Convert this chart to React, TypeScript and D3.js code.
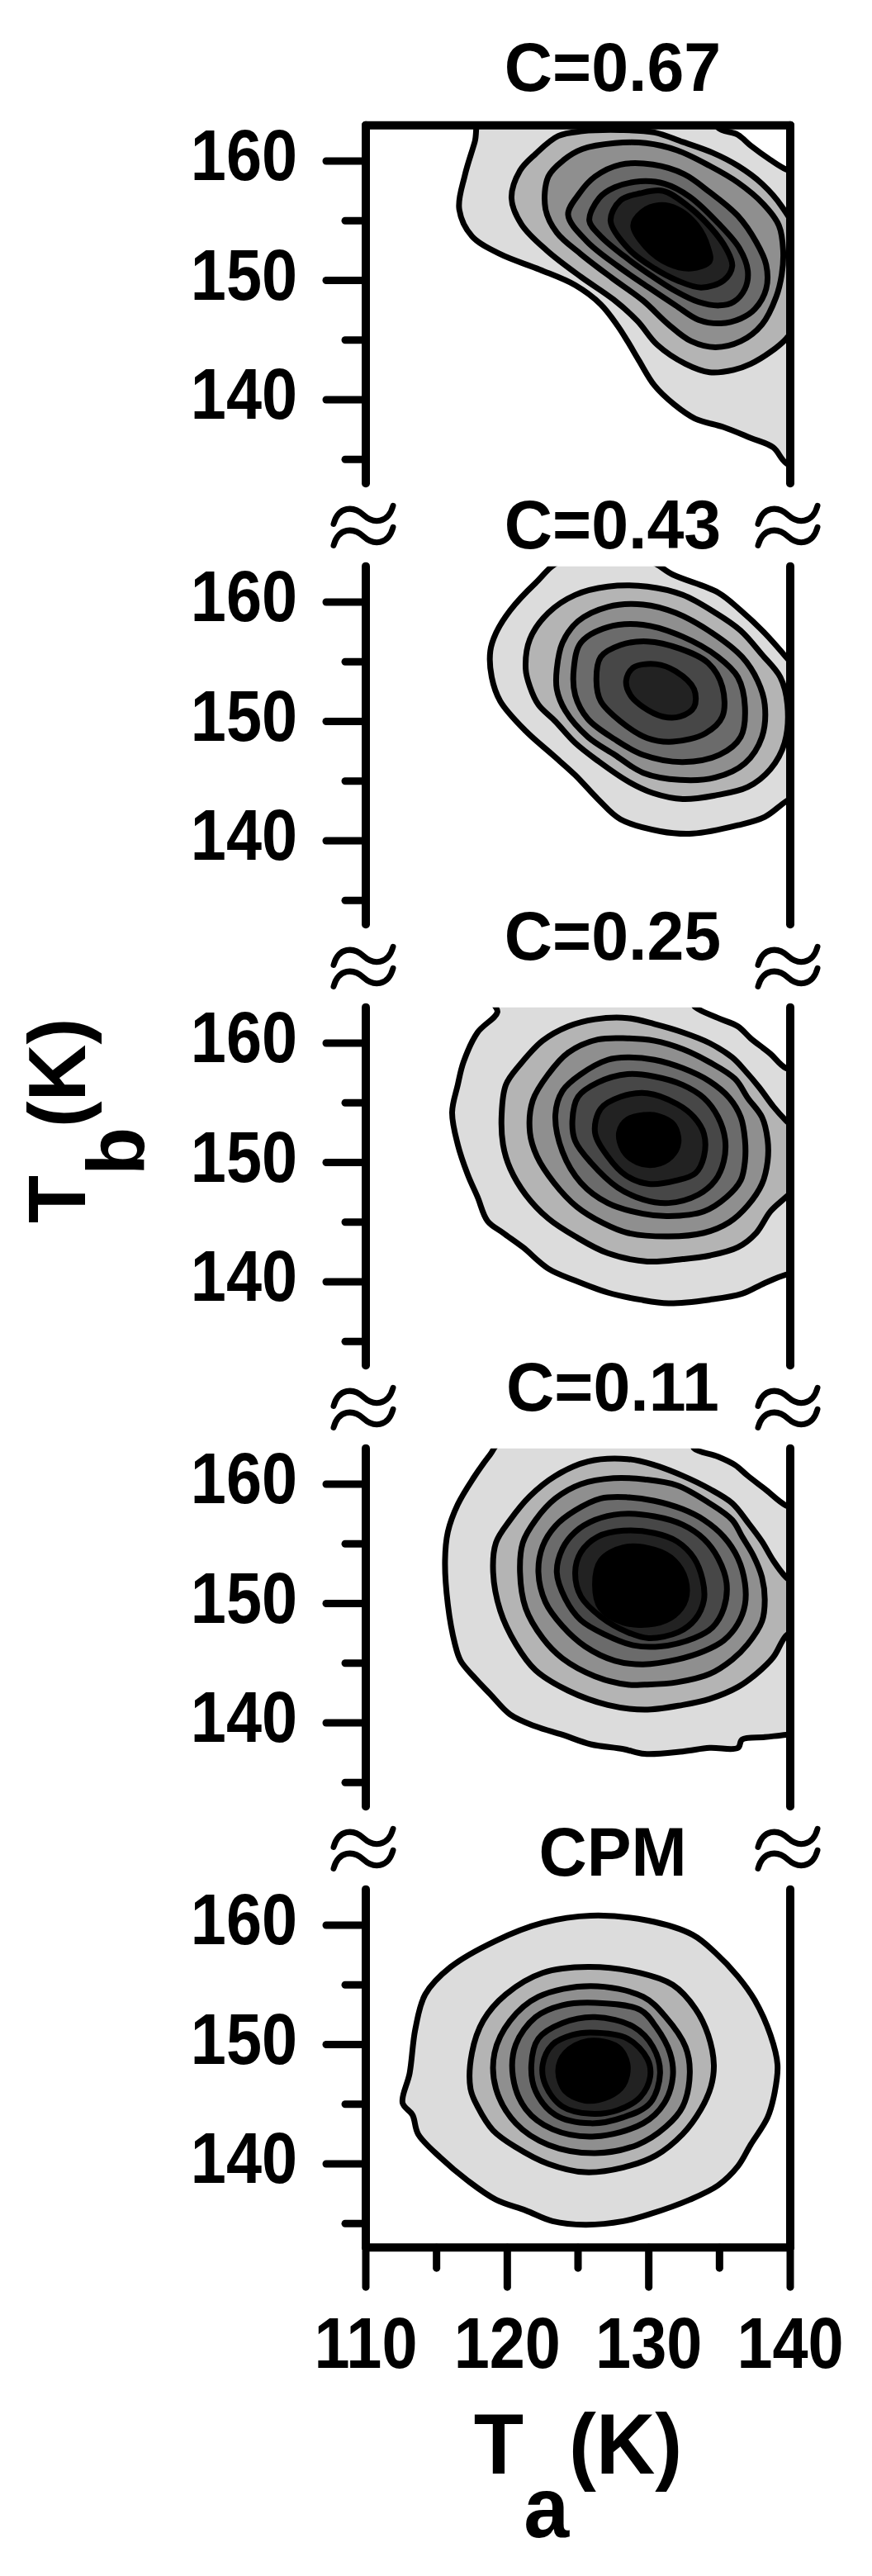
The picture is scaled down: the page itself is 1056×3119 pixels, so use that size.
import React from "react";
import * as d3 from "d3";

type Pt = [number, number];

// panel titles, top to bottom
const panelTitles = ["C=0.67", "C=0.43", "C=0.25", "C=0.11", "CPM"];
const titleBaselines = [110, 664, 1162, 1708, 2271];

// fill of each contour band, outermost first
const levelFills = ["#dcdcdc", "#b4b4b4", "#8f8f8f", "#6b6b6b", "#474747", "#222222", "#000000"];

const xMajor = [110, 120, 130, 140];
const xMinor = [115, 125, 135];
const yMajor = [140, 150, 160];
const yMinor = [135, 145, 155];

// contour outlines, [Ta, Tb] in K, outermost level first
const c067: Pt[][] = [
  [[118.3,164.2],[117.7,161.6],[117.0,158.8],[116.6,156.0],[117.5,153.7],[119.5,152.2],[122.3,150.9],[124.8,149.6],[126.6,148.0],[127.8,146.2],[128.5,144.9],[129.3,143.3],[130.4,141.2],[131.8,139.6],[133.3,138.4],[135.3,137.7],[137.2,136.8],[138.8,136.0],[139.7,134.7],[141.5,134.0],[141.5,158.5],[139.7,159.3],[138.6,160.1],[137.2,161.3],[136.3,162.2],[134.9,162.8],[134.6,164.2]],
  [[120.3,156.9],[120.9,159.2],[122.0,160.6],[123.6,162.1],[125.3,162.5],[128.0,162.6],[130.4,162.4],[132.4,161.6],[134.5,160.7],[136.3,159.6],[138.0,158.1],[139.4,156.2],[140.8,153.0],[140.8,147.0],[139.7,145.1],[138.6,144.0],[137.2,143.0],[136.0,142.5],[134.3,142.3],[132.6,143.0],[130.6,144.6],[129.2,146.6],[127.5,148.4],[125.2,150.3],[122.8,152.5],[121.0,154.7]],
  [[122.7,156.0],[122.9,158.7],[124.0,160.1],[125.3,161.0],[127.6,161.5],[129.8,161.5],[132.0,160.9],[134.3,159.6],[136.3,158.2],[138.1,156.4],[139.2,154.6],[139.5,152.5],[139.4,150.5],[139.0,148.6],[138.0,146.3],[136.5,144.9],[134.7,144.4],[133.0,144.9],[131.4,146.3],[129.6,148.3],[127.4,150.2],[125.2,152.2],[123.5,154.0]],
  [[124.3,155.5],[125.1,157.3],[126.2,158.7],[128.0,159.7],[130.3,159.7],[132.5,158.9],[134.3,157.4],[136.3,155.4],[137.6,153.2],[138.3,151.3],[138.3,149.3],[137.5,147.6],[136.5,146.8],[135.1,146.4],[133.5,146.7],[131.9,147.9],[130.0,149.4],[127.8,151.2],[125.6,153.3]],
  [[125.8,155.0],[126.5,156.9],[127.6,157.8],[129.4,158.3],[131.1,158.1],[132.9,157.0],[134.9,154.8],[136.4,152.7],[137.0,150.8],[136.8,149.3],[136.0,148.2],[135.0,147.9],[133.5,148.2],[131.9,149.1],[130.3,150.3],[128.3,152.0],[126.6,153.7]],
  [[127.3,155.0],[128.0,156.7],[129.4,157.3],[131.0,157.5],[132.7,156.3],[134.4,154.4],[135.5,152.6],[135.9,151.2],[135.3,150.0],[133.7,149.4],[132.0,150.0],[130.4,151.0],[128.6,152.6]],
  [[128.9,154.6],[129.6,155.8],[130.7,156.3],[132.0,156.0],[133.4,154.6],[134.2,152.7],[134.3,151.6],[133.0,151.0],[131.4,151.4],[129.8,152.8]],
];

const c043: Pt[][] = [
  [[123.9,163.5],[129.9,163.5],[131.7,162.3],[134.9,160.8],[136.5,159.3],[138.2,157.4],[139.7,155.4],[141.4,152.9],[141.4,144.5],[139.7,143.3],[138.2,142.0],[136.3,141.3],[133.1,140.6],[130.8,140.8],[128.0,141.8],[126.4,143.5],[124.8,145.5],[123.2,147.2],[121.3,149.2],[119.5,151.7],[118.9,153.7],[118.8,155.9],[119.2,157.4],[120.2,159.3],[122.0,161.6]],
  [[121.3,154.4],[121.6,156.9],[122.9,159.1],[124.8,160.6],[127.1,161.3],[129.9,161.3],[132.4,160.6],[134.7,159.1],[136.5,157.6],[138.0,155.6],[139.3,153.7],[139.8,151.4],[139.6,148.2],[138.6,146.0],[137.0,144.5],[134.7,143.8],[132.4,143.5],[130.3,144.0],[128.5,145.0],[126.4,146.7],[124.8,148.2],[123.4,150.0],[122.2,151.4],[121.6,152.9]],
  [[123.5,154.4],[123.9,156.6],[125.0,158.4],[127.1,159.6],[129.6,159.8],[131.9,159.1],[134.5,157.4],[136.6,155.4],[137.7,153.4],[138.2,151.4],[138.0,148.7],[136.8,146.5],[134.7,145.3],[132.2,145.1],[129.6,145.7],[127.6,147.2],[125.7,148.7],[124.1,150.9],[123.5,152.7]],
  [[124.7,154.4],[125.2,156.6],[127.1,157.9],[129.6,158.1],[132.4,157.1],[134.9,155.4],[136.3,153.7],[136.8,151.2],[136.5,148.7],[135.0,147.2],[132.4,146.6],[129.6,147.2],[127.6,148.5],[125.7,150.2],[124.8,152.2]],
  [[126.3,153.4],[126.6,155.4],[128.0,156.4],[129.9,156.7],[132.2,156.1],[134.2,154.9],[135.2,152.9],[135.2,150.4],[134.0,149.0],[131.7,148.3],[129.9,148.6],[128.0,150.0],[126.6,151.7]],
  [[128.4,153.4],[128.9,154.5],[130.5,154.8],[131.9,154.2],[133.2,152.7],[133.2,151.2],[132.2,150.4],[131.0,150.4],[129.6,151.2],[128.7,152.2]],
];

const c025: Pt[][] = [
  [[119.0,163.6],[119.3,162.6],[117.9,160.9],[116.9,158.4],[116.5,156.5],[116.1,154.2],[116.5,151.5],[117.2,149.0],[117.9,147.1],[118.6,145.1],[119.7,144.1],[121.1,142.9],[122.9,141.1],[124.8,140.1],[127.1,139.1],[129.4,138.5],[131.4,138.2],[134.3,138.5],[136.6,139.0],[138.2,139.9],[139.7,140.6],[141.5,141.0],[141.5,157.5],[139.7,157.9],[138.6,159.1],[137.2,160.4],[136.3,161.4],[134.9,162.1],[133.3,163.0],[132.8,163.8]],
  [[119.6,154.0],[119.9,156.5],[120.9,158.2],[122.5,160.2],[124.3,161.4],[126.2,162.0],[128.5,162.1],[130.4,161.6],[132.4,160.9],[134.3,160.0],[135.9,158.8],[136.8,157.7],[137.8,156.3],[138.8,154.7],[139.7,153.5],[141.0,152.0],[141.0,148.5],[139.7,147.1],[138.6,145.9],[137.6,144.1],[136.3,142.9],[134.3,142.2],[132.4,141.9],[129.9,141.7],[127.1,142.4],[124.8,143.8],[122.9,145.3],[121.3,147.3],[120.2,149.5],[119.7,151.5]],
  [[121.6,152.5],[121.8,155.2],[122.9,157.4],[124.3,159.2],[126.4,160.3],[128.5,160.4],[130.4,160.2],[132.4,159.5],[134.3,158.4],[136.1,157.0],[137.0,155.4],[138.0,153.8],[138.4,151.9],[138.4,150.1],[138.0,148.2],[137.0,146.4],[135.7,145.0],[133.9,144.1],[131.4,143.8],[128.5,144.1],[126.8,144.9],[124.9,146.3],[123.3,148.3],[122.1,150.5]],
  [[123.4,154.0],[123.9,156.0],[125.2,157.4],[127.1,158.6],[128.5,158.8],[130.4,158.6],[132.4,157.9],[134.3,156.8],[135.7,155.4],[136.5,153.8],[136.8,151.9],[136.8,150.1],[136.5,148.5],[135.5,147.1],[133.9,145.9],[131.4,145.5],[129.6,145.7],[127.1,146.6],[125.2,148.3],[123.9,150.9]],
  [[124.6,153.5],[125.0,155.5],[126.4,156.7],[128.5,157.4],[130.4,157.2],[132.4,156.5],[133.9,155.4],[134.9,153.8],[135.4,151.9],[135.3,150.1],[134.7,148.5],[133.5,147.3],[131.4,146.6],[129.6,146.9],[127.8,147.9],[125.9,150.0],[124.8,151.8]],
  [[126.2,152.5],[126.6,154.5],[128.0,155.5],[129.9,155.8],[132.0,154.9],[133.2,153.8],[133.9,152.4],[133.9,150.5],[133.3,149.1],[132.0,148.5],[130.0,148.2],[128.4,148.9],[127.1,150.5]],
  [[127.9,152.5],[128.5,153.6],[130.1,154.0],[131.1,153.7],[131.8,153.1],[132.1,151.7],[131.6,150.5],[130.4,149.8],[129.2,150.0],[128.2,151.0]],
];

const c011: Pt[][] = [
  [[119.6,163.6],[118.8,162.5],[117.6,160.5],[116.5,158.3],[115.8,156.0],[115.6,153.6],[115.8,149.9],[116.3,146.6],[116.7,145.2],[117.6,143.9],[118.8,142.4],[120.2,140.7],[122.0,139.7],[123.9,139.0],[125.9,138.2],[128.2,137.8],[129.7,137.4],[132.4,137.6],[134.3,137.9],[136.3,137.9],[136.6,138.6],[138.2,138.8],[139.7,139.0],[141.5,139.2],[141.5,157.5],[139.7,158.2],[138.2,159.6],[137.0,160.7],[136.1,161.6],[134.9,162.3],[133.2,163.0],[133.0,163.8]],
  [[119.0,152.6],[119.2,155.1],[120.2,157.0],[121.6,159.0],[123.4,160.7],[125.7,161.9],[128.5,162.1],[130.4,161.6],[132.4,160.7],[134.3,159.6],[135.9,158.4],[137.0,156.8],[138.0,155.2],[138.8,153.6],[139.7,152.2],[141.0,151.0],[141.0,148.5],[139.7,147.3],[138.8,145.5],[137.6,144.1],[136.3,143.0],[134.3,142.0],[132.4,141.5],[129.7,141.1],[127.1,141.5],[124.3,142.7],[122.0,144.4],[120.6,146.6],[119.5,149.4]],
  [[120.9,152.6],[121.1,155.1],[122.0,157.0],[123.4,158.8],[125.2,160.0],[127.5,160.5],[129.7,160.4],[132.0,159.9],[134.3,158.4],[135.9,157.0],[136.6,155.6],[137.4,154.0],[138.0,152.2],[138.2,150.3],[138.0,148.5],[137.0,146.6],[135.9,145.3],[134.3,144.1],[132.0,143.4],[129.7,143.2],[128.5,143.2],[126.2,143.9],[123.9,145.4],[122.5,147.1],[121.3,149.6]],
  [[122.2,152.6],[122.5,154.8],[123.4,156.5],[124.8,157.8],[126.6,158.8],[128.5,158.9],[130.4,158.6],[132.4,157.9],[133.9,157.0],[135.3,155.6],[136.3,153.8],[136.8,151.7],[136.8,149.9],[136.3,148.3],[135.3,146.9],[133.9,146.0],[132.0,145.3],[129.6,144.9],[127.6,145.2],[125.5,146.4],[123.9,148.1],[122.7,150.1]],
  [[123.5,152.6],[123.9,154.6],[124.8,156.0],[126.2,157.0],[128.0,157.5],[130.4,157.3],[132.4,156.6],[133.9,155.4],[134.9,153.8],[135.5,151.7],[135.3,149.6],[134.5,148.0],[133.2,147.1],[130.8,146.4],[128.9,146.5],[126.9,147.4],[125.2,148.6],[124.1,150.4]],
  [[124.8,152.6],[125.2,154.3],[126.4,155.6],[128.2,156.1],[130.4,155.9],[132.0,155.2],[133.2,153.8],[133.8,152.0],[133.9,150.3],[133.3,148.7],[132.1,147.6],[130.0,147.1],[128.5,147.6],[126.6,148.9],[125.2,150.6]],
  [[126.2,151.6],[126.6,153.6],[128.2,154.7],[130.4,154.5],[131.8,153.6],[132.6,152.0],[132.6,150.3],[131.8,149.0],[130.4,148.3],[128.2,148.4],[126.6,149.6]],
];

const cCPM: Pt[][] = [
  [[113.5,151.3],[113.1,147.6],[112.6,145.1],[113.3,144.1],[113.7,142.5],[115.3,140.5],[117.2,138.6],[119.2,137.0],[121.3,136.1],[123.2,135.2],[125.5,134.9],[128.2,135.2],[130.1,135.8],[132.9,137.0],[134.9,138.2],[136.3,139.8],[137.2,141.6],[138.4,143.9],[138.9,146.0],[139.1,148.3],[138.6,150.8],[137.5,153.7],[136.3,155.7],[134.7,157.7],[133.1,159.2],[129.9,160.4],[125.9,160.8],[122.5,160.2],[119.2,158.7],[116.0,156.5],[114.2,154.2]],
  [[117.4,146.3],[117.9,144.8],[119.0,142.8],[120.6,141.4],[122.9,140.0],[125.5,139.3],[128.2,139.7],[130.5,140.7],[132.4,142.5],[133.7,144.6],[134.4,146.5],[134.6,148.3],[134.2,150.8],[133.3,153.0],[131.7,155.0],[129.4,156.0],[125.7,156.5],[122.5,156.0],[119.9,154.2],[118.3,152.0],[117.5,149.3]],
  [[125.9,154.9],[129.6,154.0],[131.2,152.3],[132.6,149.8],[132.9,147.6],[132.4,144.8],[131.2,143.1],[129.2,141.6],[126.2,140.9],[122.9,141.6],[120.6,143.4],[119.2,146.3],[119.1,149.3],[120.2,152.0],[122.2,154.0]],
  [[126.2,153.5],[129.4,152.9],[130.5,151.5],[131.5,149.3],[131.7,147.3],[131.1,145.1],[129.6,143.4],[126.2,142.3],[123.2,142.9],[121.3,144.6],[120.4,147.3],[120.6,150.0],[122.0,152.3],[123.9,153.3]],
  [[126.2,152.3],[128.9,151.5],[130.3,149.8],[130.8,147.6],[130.1,145.1],[128.2,143.9],[125.9,143.4],[123.4,144.1],[122.0,146.1],[121.7,148.3],[122.2,150.5],[123.9,151.8]],
  [[125.9,151.0],[128.5,150.5],[129.9,148.8],[130.1,147.3],[129.4,145.6],[127.8,144.5],[125.9,144.2],[123.9,144.8],[122.7,146.6],[122.5,148.3],[123.2,150.0],[124.6,150.8]],
  [[125.7,150.3],[127.8,149.8],[128.5,148.3],[128.2,146.6],[127.1,145.6],[125.5,145.3],[124.1,146.1],[123.6,147.8],[124.1,149.3]],
];

const panelContours = [c067, c043, c025, c011, cCPM];

const W = 1056;
const H = 3119;
const plotLeft = 443;
const plotRight = 957;
const firstTop = 151.65;
const panelStep = 534;
const panelHeight = 433.5;
const font = "'Liberation Sans', Arial, Helvetica, sans-serif";

const x = d3.scaleLinear().domain([110, 140]).range([plotLeft, plotRight]);

function panelY(i: number) {
  const top = firstTop + panelStep * i;
  return d3.scaleLinear().domain([133, 163]).range([top + panelHeight, top]);
}

// the "≈" break marks
function BreakMark({ cx, cy }: { cx: number; cy: number }) {
  const wave = (dy: number) =>
    `M${cx - 36},${cy + dy + 9} C${cx - 30},${cy + dy - 13} ${cx - 12},${cy + dy - 13} ${cx},${cy + dy - 2} C${cx + 12},${cy + dy + 9} ${cx + 30},${cy + dy + 9} ${cx + 36},${cy + dy - 13}`;
  return (
    <g fill="none" stroke="#000" strokeWidth={7} strokeLinecap="round">
      <path d={wave(-13)} />
      <path d={wave(13)} />
    </g>
  );
}

function Panel({ i }: { i: number }) {
  const y = panelY(i);
  const top = y(163);
  const bottom = y(133);
  const line = d3
    .line<Pt>()
    .x((d) => x(d[0]))
    .y((d) => y(d[1]))
    .curve(d3.curveCatmullRomClosed.alpha(0.5));
  const clipId = `clip-${i}`;
  const isFirst = i === 0;
  const isLast = i === panelContours.length - 1;

  return (
    <g>
      <defs>
        <clipPath id={clipId}>
          <rect x={plotLeft} y={top} width={plotRight - plotLeft} height={bottom - top} />
        </clipPath>
      </defs>
      <g clipPath={`url(#${clipId})`}>
        {panelContours[i].map((ring, k) => (
          <path
            key={k}
            d={line(ring) || ""}
            fill={levelFills[k]}
            stroke="#000"
            strokeWidth={7}
            strokeLinejoin="round"
          />
        ))}
      </g>

      {/* title */}
      <text
        transform={`translate(742,${titleBaselines[i]}) scale(0.96,1)`}
        textAnchor="middle"
        fontFamily={font}
        fontWeight={700}
        fontSize={84}
      >
        {panelTitles[i]}
      </text>

      {/* frame */}
      <g stroke="#000" strokeWidth={10} strokeLinecap="round">
        <line x1={plotLeft} x2={plotLeft} y1={top} y2={bottom} />
        <line x1={plotRight} x2={plotRight} y1={top} y2={bottom} />
        {isFirst && <line x1={plotLeft} x2={plotRight} y1={top} y2={top} />}
        {isLast && <line x1={plotLeft} x2={plotRight} y1={bottom} y2={bottom} />}
      </g>

      {/* y ticks */}
      <g stroke="#000" strokeWidth={9} strokeLinecap="round">
        {yMajor.map((t) => (
          <line key={t} x1={plotLeft - 48} x2={plotLeft} y1={y(t)} y2={y(t)} />
        ))}
        {yMinor.map((t) => (
          <line key={t} x1={plotLeft - 25} x2={plotLeft} y1={y(t)} y2={y(t)} />
        ))}
      </g>
      {yMajor.map((t) => (
        <text
          key={t}
          transform={`translate(360,${y(t) + 23}) scale(0.89,1)`}
          textAnchor="end"
          fontFamily={font}
          fontWeight={700}
          fontSize={87}
        >
          {t}
        </text>
      ))}

      {isLast && (
        <g>
          <g stroke="#000" strokeWidth={9} strokeLinecap="round">
            {xMajor.map((t) => (
              <line key={t} x1={x(t)} x2={x(t)} y1={bottom} y2={bottom + 48} />
            ))}
            {xMinor.map((t) => (
              <line key={t} x1={x(t)} x2={x(t)} y1={bottom} y2={bottom + 25} />
            ))}
          </g>
          {xMajor.map((t) => (
            <text
              key={t}
              transform={`translate(${x(t)},2867) scale(0.88,1)`}
              textAnchor="middle"
              fontFamily={font}
              fontWeight={700}
              fontSize={88}
            >
              {t}
            </text>
          ))}
        </g>
      )}
    </g>
  );
}

export default function App() {
  const gaps = d3.range(panelContours.length - 1).map((i) => {
    const yA = panelY(i);
    const yB = panelY(i + 1);
    return (yA(133) + yB(163)) / 2 + 3;
  });

  return (
    <svg
      width={W}
      height={H}
      viewBox={`0 0 ${W} ${H}`}
      style={{ position: "absolute", left: 0, top: 0, background: "#fff" }}
    >
      {panelContours.map((_, i) => (
        <Panel key={i} i={i} />
      ))}

      {gaps.map((gy, i) => (
        <g key={i}>
          <BreakMark cx={plotLeft - 3} cy={gy} />
          <BreakMark cx={plotRight - 3} cy={gy} />
        </g>
      ))}

      {/* x axis title */}
      <text
        transform="translate(700,2995) scale(0.95,1)"
        textAnchor="middle"
        fontFamily={font}
        fontWeight={700}
        fontSize={104}
      >
        T<tspan dy={77}>a</tspan>
        <tspan dy={-77}>(K)</tspan>
      </text>

      {/* y axis title */}
      <text
        transform="translate(103,1357) rotate(-90) scale(0.97,1)"
        textAnchor="middle"
        fontFamily={font}
        fontWeight={700}
        fontSize={98}
      >
        T<tspan dy={71}>b</tspan>
        <tspan dy={-71}>(K)</tspan>
      </text>
    </svg>
  );
}
